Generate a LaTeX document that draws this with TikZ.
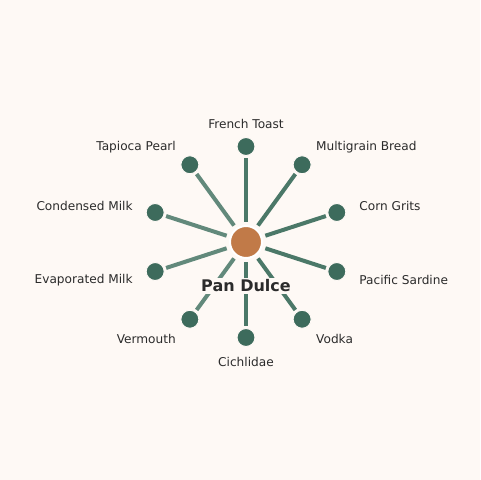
\documentclass[tikz,border=0pt]{standalone}
\usepackage{fontspec}
\setmainfont{DejaVu Sans}
\definecolor{bg}{HTML}{FEF9F5}
\definecolor{leafgreen}{HTML}{3D6B5C}
\definecolor{edgedark}{HTML}{4B7868}
\definecolor{edgelight}{HTML}{62897B}
\definecolor{hub}{HTML}{C17A48}
\definecolor{txt}{HTML}{2B2B2B}
\tikzset{
  leaf/.style={circle,fill=leafgreen,draw=bg,line width=0.75pt,minimum size=13.5pt,inner sep=0pt},
  hubnode/.style={circle,fill=hub,draw=white,line width=1.5pt,minimum size=24pt,inner sep=0pt},
  spoke/.style={line width=3pt,shorten <=2.5pt,shorten >=1.5pt},
  leaflabel/.style={text=txt,font=\fontsize{9.1}{10.9}\selectfont,inner sep=0pt}
}
\begin{document}
\begin{tikzpicture}[x=0.75pt,y=0.75pt]
\useasboundingbox[fill=bg] (-246,-238) rectangle (234,242);

%Mitte
\node[hubnode] (c) at (0,0) {};

%Blaetter
\foreach \i/\a/\name/\anc/\col in {1/90/French Toast/center/edgedark,
  2/54/Multigrain Bread/west/edgedark,
  3/18/Corn Grits/west/edgedark,
  4/-18/Pacific Sardine/west/edgedark,
  5/-54/Vodka/west/edgedark,
  6/-90/Cichlidae/center/edgedark,
  7/-126/Vermouth/east/edgelight,
  8/-162/Evaporated Milk/east/edgelight,
  9/162/Condensed Milk/east/edgelight,
  10/126/Tapioca Pearl/east/edgelight}{
\node[leaf] (n\i) at (\a:95.5) {};
\node[leaflabel,anchor=\anc,yshift=-0.8] (t\i) at (\a:119) {\name};
\draw[spoke,draw=\col] (c) -- (n\i);
}

%Titel
\node[fill=bg,inner sep=1.5pt,text=txt,font=\fontsize{12}{14}\selectfont\bfseries] (title) at (0,-44) {Pan Dulce};

\end{tikzpicture}
\end{document}
